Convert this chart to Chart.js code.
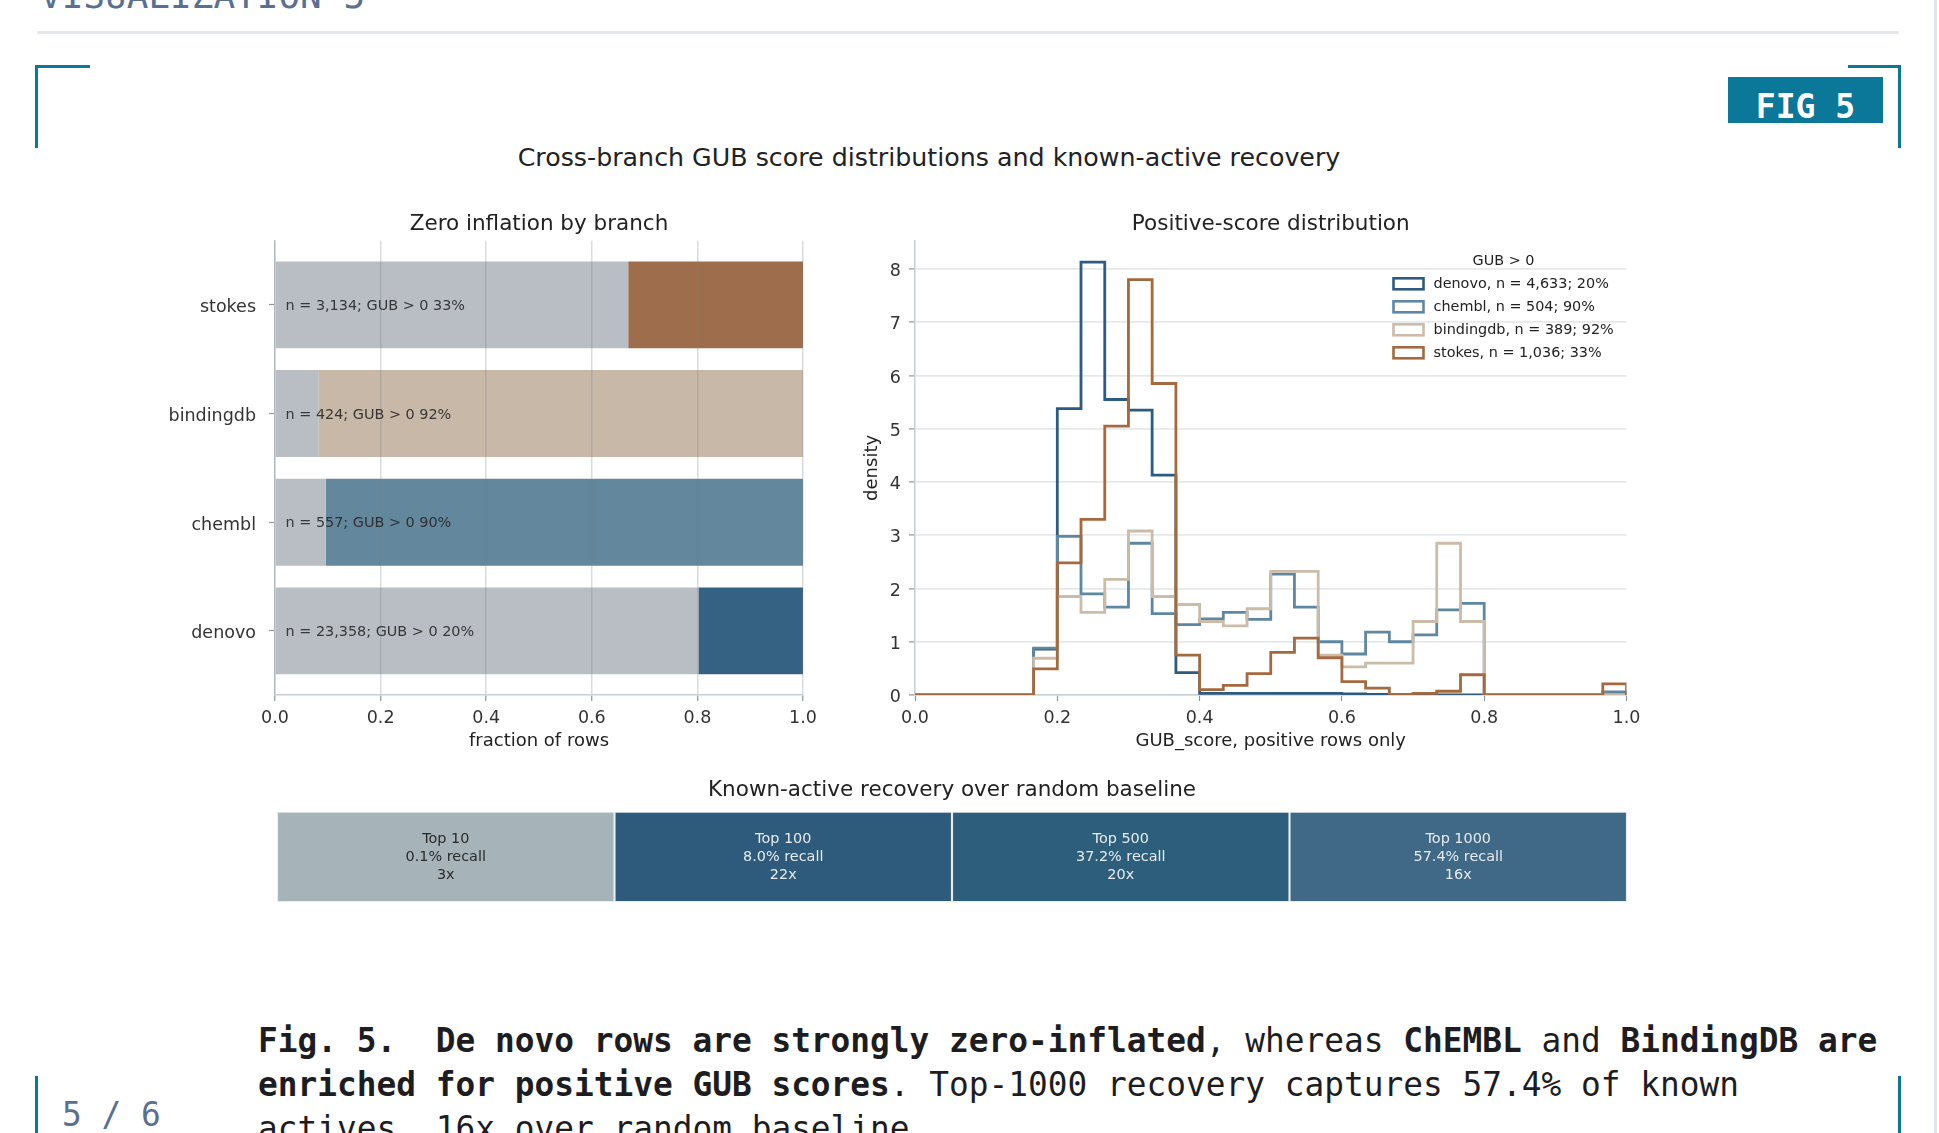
<!DOCTYPE html>
<html lang="en">
<head>
  <meta charset="UTF-8">
  <title>Fig. 5 - Cross-branch GUB score distributions</title>
  <style>
    html, body { margin: 0; padding: 0; background: #fff; overflow: hidden; }
    body { width: 1939px; height: 1133px; position: relative; font-family: "DejaVu Sans", sans-serif; }

    .kicker {
      position: absolute; left: 40px; top: -22px;
      font: 36px/36px "DejaVu Sans Mono", monospace; color: #5a7090; white-space: nowrap;
    }
    .rule { position: absolute; left: 37px; top: 31px; width: 1862px; height: 3px; background: #e4e8ed; }
    .edge { position: absolute; left: 1934px; top: 0; width: 3px; height: 1133px; background: #e2e5e9; }

    .corner { position: absolute; border: 0 solid #0b7799; }
    .corner.tl { left: 35px; top: 65px; width: 52px; height: 80px; border-left-width: 3px; border-top-width: 3px; }
    .corner.tr { left: 1848px; top: 65px; width: 50px; height: 80px; border-right-width: 3px; border-top-width: 3px; }
    .corner.bl { left: 35px; top: 1076px; width: 52px; height: 80px; border-left-width: 3px; }
    .corner.br { left: 1848px; top: 1076px; width: 50px; height: 80px; border-right-width: 3px; }

    .badge {
      position: absolute; left: 1728px; top: 77px; width: 155px; height: 46px;
      background: #0b7799; color: #fff; text-align: center;
      font: bold 33px/60px "DejaVu Sans Mono", monospace; overflow: hidden;
    }

    .suptitle {
      position: absolute; left: 0; top: 143px; width: 1858px; text-align: center;
      font-size: 25.3px; line-height: 30px; color: #222;
    }

    .chart { position: absolute; }
    #zero-chart { left: 150px; top: 200px; }
    #hist-chart { left: 850px; top: 200px; }
    #recovery-chart { left: 250px; top: 770px; }

    .caption {
      position: absolute; left: 258px; top: 1019px; width: 1640px;
      font: 32.8px/44px "DejaVu Sans Mono", monospace; color: #1d1d1f;
    }
    .pager {
      position: absolute; left: 62px; top: 1093px;
      font: 32.8px/44px "DejaVu Sans Mono", monospace; color: #5a7090; white-space: nowrap;
    }
  </style>
</head>
<body>
  <div class="kicker">VISUALIZATION 5</div>
  <div class="rule"></div>
  <div class="edge"></div>
  <div class="corner tl"></div>
  <div class="corner tr"></div>
  <div class="corner bl"></div>
  <div class="corner br"></div>
  <div class="badge">FIG 5</div>

  <div class="suptitle">Cross-branch GUB score distributions and known-active recovery</div>

  <canvas id="zero-chart" class="chart" width="680" height="560"></canvas>
  <canvas id="hist-chart" class="chart" width="800" height="560"></canvas>
  <canvas id="recovery-chart" class="chart" width="1400" height="150"></canvas>

  <div class="caption"><b>Fig. 5.&nbsp; De novo rows are strongly zero-inflated</b>, whereas <b>ChEMBL</b> and <b>BindingDB are enriched for positive GUB scores</b>. Top-1000 recovery captures 57.4% of known actives, 16x over random baseline.</div>
  <div class="pager">5 / 6</div>

  <script src="https://cdn.jsdelivr.net/npm/chart.js@4.4.1/dist/chart.umd.min.js"></script>
  <script>
    // branches, bottom to top in the left panel
    const BRANCHES = ['denovo', 'chembl', 'bindingdb', 'stokes'];
    const N_TOTAL = [23358, 557, 424, 3134];
    const N_POSITIVE = [4633, 504, 389, 1036];
    const ZERO_SHARE = [0.802, 0.096, 0.083, 0.669];
    const POSITIVE_SHARE = [0.198, 0.904, 0.917, 0.331];

    // histogram bins of GUB_score (density, positive rows only)
    const BIN_EDGES = [
      0, 0.0333, 0.0667, 0.1, 0.1333, 0.1667, 0.2, 0.2333, 0.2667, 0.3, 0.3333,
      0.3667, 0.4, 0.4333, 0.4667, 0.5, 0.5333, 0.5667, 0.6, 0.6333, 0.6667,
      0.7, 0.7333, 0.7667, 0.8, 0.8333, 0.8667, 0.9, 0.9333, 0.9667, 1
    ];
    const DENSITY_DENOVO = [
      0, 0, 0, 0, 0, 0.86, 5.38, 8.13, 5.55, 5.35, 4.13, 0.42, 0.03, 0.03, 0.03,
      0.03, 0.03, 0.03, 0.02, 0.01, 0, 0, 0, 0, 0, 0, 0, 0, 0, 0
    ];
    const DENSITY_CHEMBL = [
      0, 0, 0, 0, 0, 0.88, 2.98, 1.9, 1.65, 2.85, 1.53, 1.32, 1.43, 1.55, 1.42,
      2.27, 1.65, 1.0, 0.77, 1.18, 1.0, 1.13, 1.6, 1.72, 0, 0, 0, 0, 0, 0.06
    ];
    const DENSITY_BINDINGDB = [
      0, 0, 0, 0, 0, 0.69, 1.85, 1.55, 2.17, 3.08, 1.85, 1.7, 1.38, 1.3, 1.62,
      2.32, 2.32, 0.75, 0.53, 0.6, 0.6, 1.38, 2.85, 1.38, 0, 0, 0, 0, 0, 0
    ];
    const DENSITY_STOKES = [
      0, 0, 0, 0, 0, 0.49, 2.48, 3.3, 5.05, 7.8, 5.85, 0.75, 0.1, 0.18, 0.4,
      0.8, 1.07, 0.7, 0.25, 0.13, 0.01, 0.03, 0.07, 0.38, 0, 0, 0, 0, 0, 0.21
    ];

    // known-active recovery strip
    const TOP_K = ['Top 10', 'Top 100', 'Top 500', 'Top 1000'];
    const RECALL_PCT = [0.1, 8.0, 37.2, 57.4];
    const ENRICHMENT = [3, 22, 20, 16];

    const BRANCH_COLORS = ['#356282', '#63879c', '#c8b8a8', '#9e6d4b'];
    const LINE_COLORS = ['#2e5b7f', '#5e88a1', '#cbbba9', '#a4693e'];
    const ZERO_COLOR = '#b8bec3';
    const CELL_COLORS = ['#a6b4ba', '#2e5a7b', '#2d5e7c', '#406887'];
    const CELL_TEXT = ['#2a2a2a', '#e6edf2', '#e6edf2', '#e6edf2'];
    const SPINE = '#c9ced3';
    const TICK_MARK = '#8f959b';

    Chart.defaults.font.family = '"DejaVu Sans", sans-serif';
    Chart.defaults.color = '#333';
    Chart.defaults.animation = false;

    const fmt = (n) => n.toLocaleString('en-US');
    const pct = (f) => Math.round(f * 100) + '%';

    function titleOpts(text, top, bottom) {
      return {
        display: true, text, fullSize: false, color: '#222',
        font: { size: 21.5, weight: 'normal', lineHeight: 1.2 },
        padding: { top, bottom }
      };
    }

    function setupZeroChart() {
      const annotate = {
        id: 'annotate',
        afterDraw(chart) {
          const { ctx, scales: { x, y } } = chart;
          ctx.save();
          ctx.font = '14.4px "DejaVu Sans"';
          ctx.fillStyle = 'rgba(40,40,40,0.9)';
          ctx.textBaseline = 'middle';
          BRANCHES.forEach((b, i) => {
            ctx.fillText(`n = ${fmt(N_TOTAL[i])}; GUB > 0 ${pct(POSITIVE_SHARE[i])}`,
              x.getPixelForValue(0.02), y.getPixelForValue(i) + 1.5);
          });
          ctx.restore();
        }
      };

      new Chart(document.getElementById('zero-chart'), {
        type: 'bar',
        data: {
          datasets: [
            {
              label: 'GUB = 0',
              data: BRANCHES.map((b, i) => ({ x: ZERO_SHARE[i], y: i })),
              backgroundColor: ZERO_COLOR
            },
            {
              label: 'GUB > 0',
              data: BRANCHES.map((b, i) => ({ x: POSITIVE_SHARE[i], y: i })),
              backgroundColor: BRANCH_COLORS
            }
          ]
        },
        plugins: [annotate],
        options: {
          responsive: false,
          indexAxis: 'y',
          categoryPercentage: 1,
          barPercentage: 0.8,
          borderWidth: 0,
          layout: { padding: { right: 27 } },
          plugins: {
            legend: { display: false },
            tooltip: { enabled: false },
            title: titleOpts('Zero inflation by branch', 12, 3)
          },
          scales: {
            x: {
              type: 'linear', min: 0, max: 1, stacked: true,
              afterFit: (s) => { s.height = 65; },
              ticks: { stepSize: 0.2, padding: 6.5, font: { size: 17.5 }, color: '#333',
                callback: (v) => v.toFixed(1) },
              // grid above the bars; the border must come after the grid layer
              grid: { z: 1, color: 'rgba(120,130,140,0.28)', lineWidth: 1.5,
                tickColor: TICK_MARK, tickLength: 6, tickWidth: 1.2 },
              border: { display: true, color: SPINE, width: 1.5, z: 2 },
              title: { display: true, text: 'fraction of rows', color: '#222',
                font: { size: 18 }, padding: { top: 0, bottom: 8 } }
            },
            y: {
              type: 'linear', min: -0.59, max: 3.59, stacked: true, offset: false,
              afterFit: (s) => { s.width = 125; },
              afterBuildTicks: (s) => { s.ticks = BRANCHES.map((b, i) => ({ value: i })); },
              ticks: { padding: 13, labelOffset: 3, font: { size: 17.5 }, color: '#333',
                callback: (v) => BRANCHES[v] },
              grid: { offset: false, drawOnChartArea: false, tickColor: TICK_MARK, tickLength: 6, tickWidth: 1.2 },
              border: { display: true, color: SPINE, width: 1.5 }
            }
          }
        }
      });
    }

    function stepData(heights) {
      const pts = heights.map((h, i) => ({ x: BIN_EDGES[i], y: h }));
      pts.push({ x: BIN_EDGES[BIN_EDGES.length - 1], y: heights[heights.length - 1] });
      pts.push({ x: BIN_EDGES[BIN_EDGES.length - 1], y: 0 });
      return pts;
    }

    function setupHistChart() {
      const series = [DENSITY_DENOVO, DENSITY_CHEMBL, DENSITY_BINDINGDB, DENSITY_STOKES];

      const histLegend = {
        id: 'histLegend',
        afterDraw(chart) {
          const { ctx, chartArea } = chart;
          const right = chartArea.right;
          const top = chartArea.top;
          ctx.save();
          ctx.font = '14.4px "DejaVu Sans"';
          ctx.fillStyle = '#222';
          ctx.textBaseline = 'middle';
          ctx.textAlign = 'center';
          ctx.fillText('GUB > 0', right - 123, top + 20);
          ctx.textAlign = 'left';
          chart.data.datasets.forEach((ds, i) => {
            const yy = top + 43 + 23 * i;
            ctx.fillStyle = '#fff';
            ctx.fillRect(right - 233, yy - 5.5, 30, 11);
            ctx.strokeStyle = ds.borderColor;
            ctx.lineWidth = 2.6;
            ctx.strokeRect(right - 233, yy - 5.5, 30, 11);
            ctx.fillStyle = '#222';
            ctx.fillText(ds.label, right - 193, yy);
          });
          ctx.restore();
        }
      };

      new Chart(document.getElementById('hist-chart'), {
        type: 'line',
        data: {
          datasets: BRANCHES.map((b, i) => ({
            label: `${b}, n = ${fmt(N_POSITIVE[i])}; ${pct(POSITIVE_SHARE[i])}`,
            data: stepData(series[i]),
            borderColor: LINE_COLORS[i],
            borderWidth: 2.8,
            pointRadius: 0,
            stepped: true,
            fill: false,
            order: BRANCHES.length - i
          }))
        },
        plugins: [histLegend],
        options: {
          responsive: false,
          layout: { padding: { right: 23.5 } },
          plugins: {
            legend: { display: false },
            tooltip: { enabled: false },
            title: titleOpts('Positive-score distribution', 12, 3)
          },
          scales: {
            x: {
              type: 'linear', min: 0, max: 1,
              afterFit: (s) => { s.height = 65; },
              ticks: { stepSize: 0.2, padding: 6.5, font: { size: 17.5 }, color: '#333',
                callback: (v) => v.toFixed(1) },
              grid: { drawOnChartArea: false, tickColor: TICK_MARK, tickLength: 6, tickWidth: 1.2 },
              border: { display: true, color: SPINE, width: 1.5 },
              title: { display: true, text: 'GUB_score, positive rows only', color: '#222',
                font: { size: 18 }, padding: { top: 0, bottom: 8 } }
            },
            y: {
              type: 'linear', min: 0, max: 8.53,
              afterFit: (s) => { s.width = 65; },
              ticks: { stepSize: 1, includeBounds: false, padding: 8, labelOffset: 2.5,
                font: { size: 17.5 }, color: '#333' },
              grid: { color: '#e6e8ec', lineWidth: 1.8, tickColor: TICK_MARK, tickLength: 6, tickWidth: 1.2 },
              border: { display: true, color: SPINE, width: 1.5 },
              title: { display: true, text: 'density', color: '#222',
                font: { size: 18 }, padding: { top: 12, bottom: 0 } }
            }
          }
        }
      });
    }

    function setupRecoveryChart() {
      const cellText = {
        id: 'cellText',
        afterDatasetsDraw(chart) {
          const { ctx } = chart;
          const meta = chart.getDatasetMeta(0);
          ctx.save();
          ctx.font = '14.4px "DejaVu Sans"';
          ctx.textAlign = 'center';
          ctx.textBaseline = 'middle';
          meta.data.forEach((bar, i) => {
            const cy = (bar.y + bar.base) / 2;
            const lines = [TOP_K[i], RECALL_PCT[i].toFixed(1) + '% recall', ENRICHMENT[i] + 'x'];
            ctx.fillStyle = CELL_TEXT[i];
            lines.forEach((t, j) => ctx.fillText(t, bar.x, cy + (j - 1) * 18));
          });
          ctx.restore();
        }
      };

      new Chart(document.getElementById('recovery-chart'), {
        type: 'bar',
        data: {
          labels: TOP_K,
          datasets: [{
            label: 'fold over random',
            data: TOP_K.map(() => [0, 1]),
            backgroundColor: CELL_COLORS,
            borderColor: '#e6ecf0',
            borderWidth: 1.4,
            borderSkipped: false
          }]
        },
        plugins: [cellText],
        options: {
          responsive: false,
          categoryPercentage: 1,
          barPercentage: 1,
          layout: { padding: { left: 27, right: 23, bottom: 18 } },
          plugins: {
            legend: { display: false },
            tooltip: { enabled: false },
            title: titleOpts('Known-active recovery over random baseline', 7.5, 8.5)
          },
          scales: {
            x: { display: false },
            y: { display: false, min: 0, max: 1 }
          }
        }
      });
    }

    setupZeroChart();
    setupHistChart();
    setupRecoveryChart();
  </script>
</body>
</html>
